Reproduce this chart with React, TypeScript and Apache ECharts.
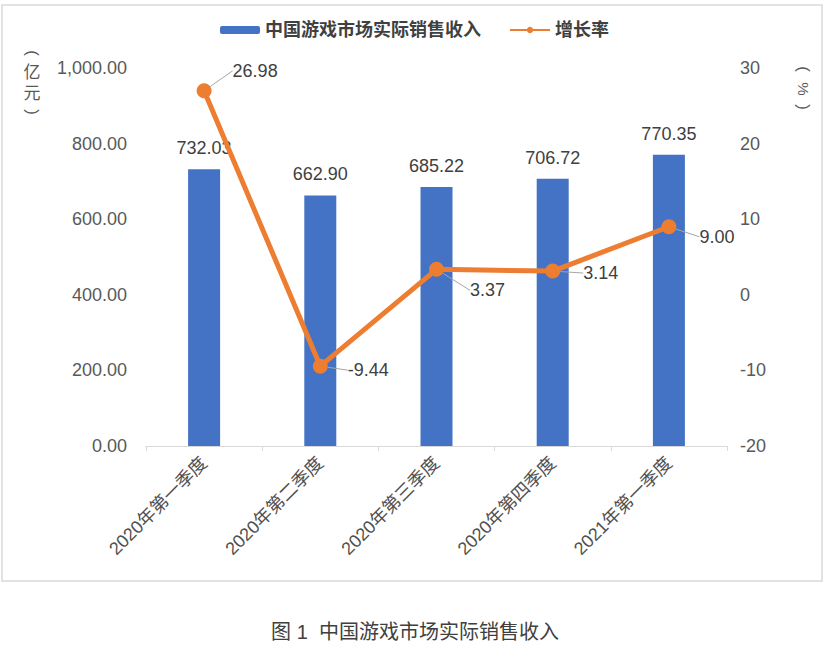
import { useRef, useEffect } from 'react'
import * as echarts from 'echarts';

// 季度
const categories = ['2020年第一季度', '2020年第二季度', '2020年第三季度', '2020年第四季度', '2021年第一季度']
// 实际销售收入（亿元）
const revenue = [732.03, 662.90, 685.22, 706.72, 770.35]
// 增长率（%）
const growth = [26.98, -9.44, 3.37, 3.14, 9.00]
const legendNames = ['中国游戏市场实际销售收入', '增长率']
const caption = '图 1  中国游戏市场实际销售收入'

// 增长率标签偏移（相对默认 right 位置）
const labelShift = [[16, -20], [15, 4], [21, 21], [18, 2], [18, 10]]

const FONT = '"Liberation Sans", "Noto Sans CJK SC", sans-serif'

// 竖排括号：把 ( ) 顺时针转 90 度
const vText = (x: number, y: number, text: string, rotate = true, size = 17) => ({
  type: 'text',
  x,
  y,
  rotation: rotate ? -Math.PI / 2 : 0,
  style: { text, fill: '#595959', fontSize: size, align: 'center', verticalAlign: 'middle', fontFamily: FONT },
  silent: true,
})

export default function App() {
  const cDom = useRef<HTMLDivElement>(null)

  useEffect(() => {
    if (!cDom.current) return
    const chart = echarts.init(cDom.current, null, { renderer: 'svg' })
    const options = {
      animation: false,
      backgroundColor: '#fff',
      textStyle: { fontFamily: FONT },
      legend: {
        data: legendNames,
        top: 16,
        left: 'center',
        itemWidth: 40,
        itemHeight: 8,
        itemGap: 28,
        textStyle: { color: '#404040', fontSize: 18, fontWeight: 'bold', fontFamily: FONT },
      },
      grid: {
        left: 146,
        right: 102,
        top: 68,
        bottom: 211,
        outerBoundsMode: 'none',
      },
      xAxis: {
        type: 'category',
        data: categories,
        axisLine: { lineStyle: { color: '#d9d9d9', width: 1.2 } },
        axisTick: { show: true, length: 5, lineStyle: { color: '#d9d9d9' } },
        axisLabel: {
          rotate: 45,
          margin: 14,
          color: '#505050',
          fontSize: 18,
          fontFamily: FONT,
        },
      },
      yAxis: [
        {
          type: 'value',
          min: 0,
          max: 1000,
          interval: 200,
          splitLine: { show: false },
          axisLine: { show: false },
          axisTick: { show: false },
          axisLabel: {
            margin: 19,
            color: '#595959',
            fontSize: 18,
            formatter: (v: number) => v.toLocaleString('en-US', { minimumFractionDigits: 2, maximumFractionDigits: 2 }),
          },
        },
        {
          type: 'value',
          min: -20,
          max: 30,
          interval: 10,
          splitLine: { show: false },
          axisLine: { show: false },
          axisTick: { show: false },
          axisLabel: { margin: 13, color: '#595959', fontSize: 18 },
        },
      ],
      series: [
        {
          name: legendNames[0],
          type: 'bar',
          data: revenue,
          barWidth: 32,
          itemStyle: { color: '#4472C4' },
          label: {
            show: true,
            position: 'top',
            distance: 12,
            color: '#404040',
            fontSize: 18,
            formatter: (p: any) => p.value.toFixed(2),
          },
        },
        {
          name: legendNames[1],
          type: 'line',
          yAxisIndex: 1,
          data: growth,
          symbol: 'circle',
          symbolSize: 15,
          lineStyle: { color: '#ED7D31', width: 5 },
          itemStyle: { color: '#ED7D31' },
          label: {
            show: true,
            position: 'right',
            distance: 5,
            color: '#404040',
            fontSize: 18,
            formatter: (p: any) => p.value.toFixed(2),
          },
          labelLine: { show: true, lineStyle: { color: '#a6a6a6', width: 1 } },
          labelLayout: (p: any) => ({ dx: labelShift[p.dataIndex][0], dy: labelShift[p.dataIndex][1] }),
        },
      ],
      graphic: [
        {
          type: 'rect',
          shape: { x: 2, y: 5, width: 820, height: 576 },
          style: { fill: 'none', stroke: '#d9d9d9', lineWidth: 1.5 },
          silent: true,
        },
        // 左轴单位（亿元）
        vText(32, 53, '('),
        vText(32, 72, '亿', false),
        vText(32, 93, '元', false),
        vText(32, 112, ')'),
        // 右轴单位（%）
        vText(803, 69, '('),
        vText(803, 89, '%', true, 15),
        vText(803, 107, ')'),
        {
          type: 'text',
          x: 415,
          y: 632,
          style: {
            text: caption,
            fill: '#404040',
            fontSize: 20,
            align: 'center',
            verticalAlign: 'middle',
            fontFamily: FONT,
          },
        },
      ],
    }
    chart.setOption(options as any)
    return () => {
      chart.dispose()
    }
  }, [])

  return <div ref={cDom} style={{ position: 'fixed', left: 0, top: 0, width: 829, height: 657 }}></div>
}
